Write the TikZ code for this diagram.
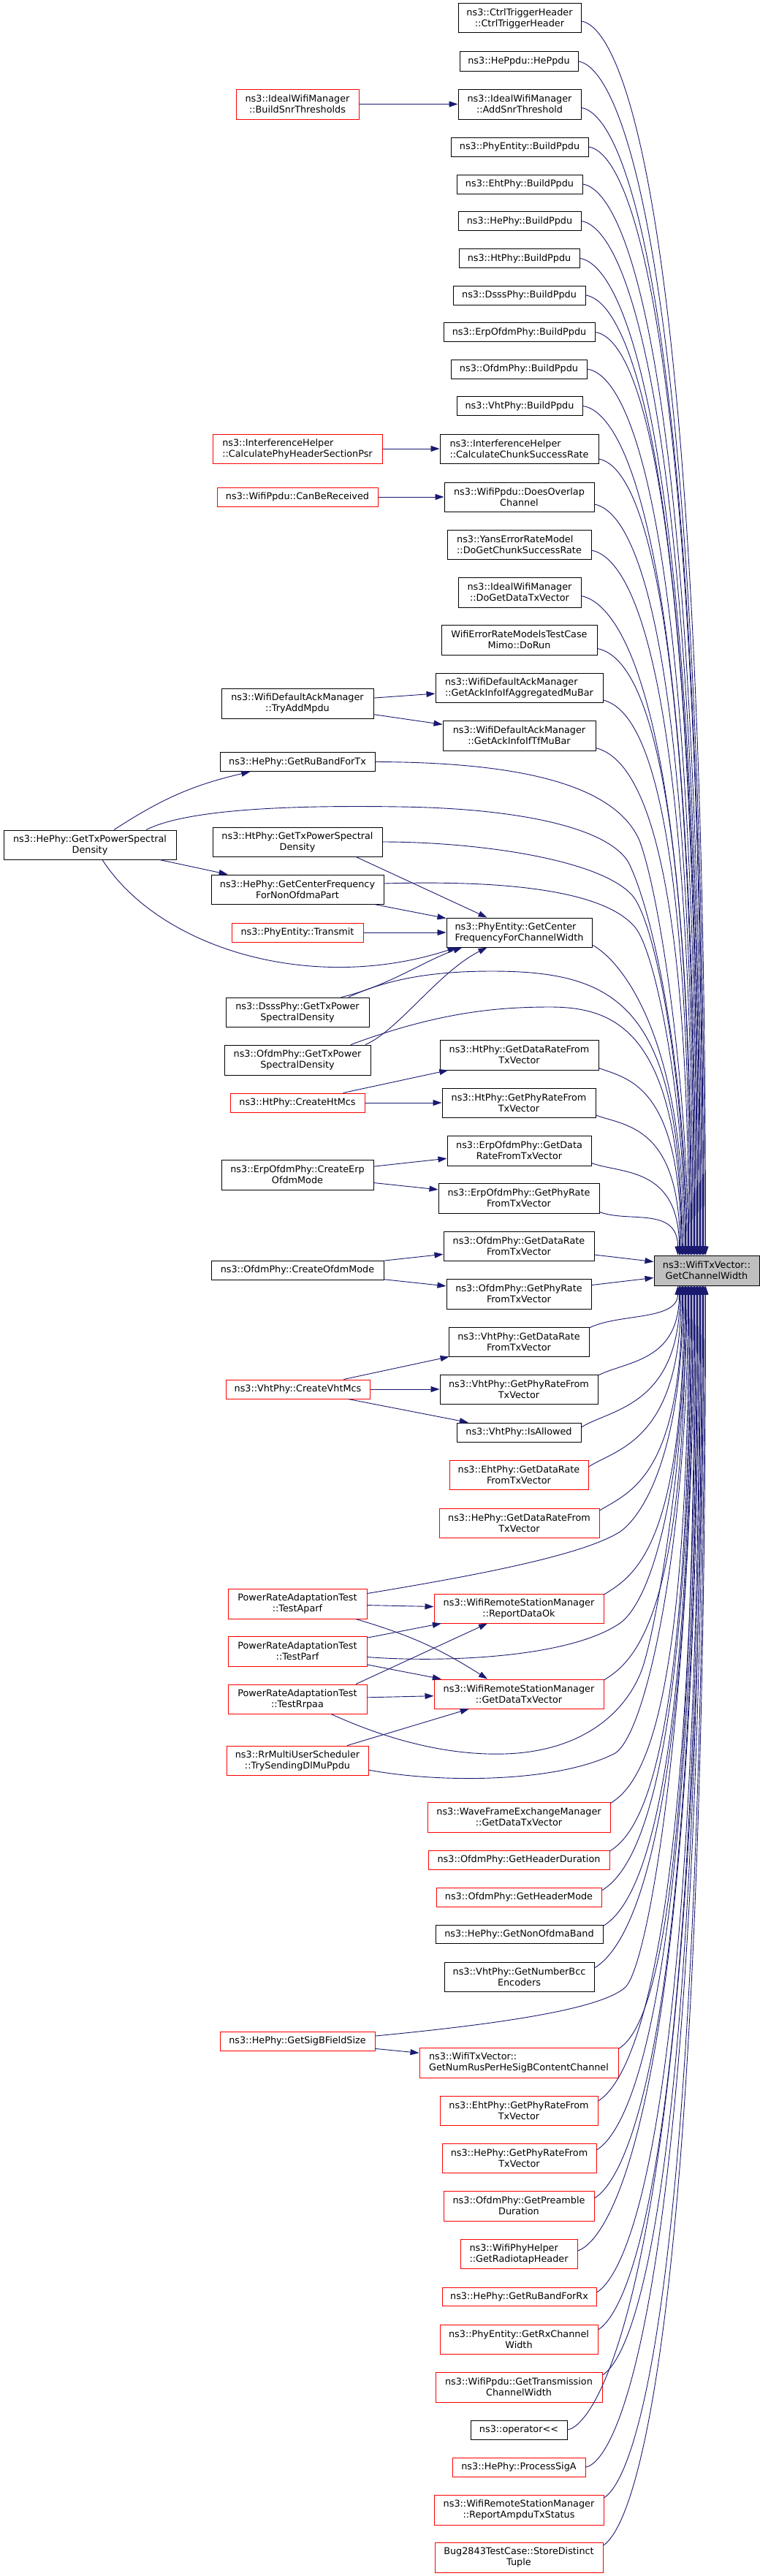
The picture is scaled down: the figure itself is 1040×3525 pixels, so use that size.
\documentclass[tikz,border=0pt]{standalone}
\usepackage{fontspec}
\setmainfont{DejaVu Sans}
\usetikzlibrary{arrows.meta}
\definecolor{edgeblue}{HTML}{191970}
\definecolor{tgtgray}{HTML}{BFBFBF}
\begin{document}
\begin{tikzpicture}[x=1pt,y=-1pt,
  font=\fontsize{12.8}{15}\selectfont,
  bx/.style={draw=black, line width=1pt, inner sep=0pt, align=center},
  rb/.style={bx, draw=red},
  lf/.style={align=left},
  sz/.style 2 args={minimum width=#1pt, minimum height=#2pt},
  edge/.style={draw=edgeblue, line width=0.9pt, -{Triangle[length=12pt,width=8pt]}},
]
\useasboundingbox (0,0) rectangle (1040,3525);

% ---------- nodes ----------
\node[bx,sz={168}{40}] (ctrl) at (711,25) {ns3::CtrlTriggerHeader\\::CtrlTriggerHeader};
\node[bx,sz={162}{26}] (heppdu) at (710,84) {ns3::HePpdu::HePpdu};
\node[rb,sz={168}{41}] (buildsnr) at (407,142.5) {ns3::IdealWifiManager\\::BuildSnrThresholds};
\node[bx,sz={168}{41}] (addsnr) at (711,142.5) {ns3::IdealWifiManager\\::AddSnrThreshold};
\node[bx,sz={188}{26}] (pebuild) at (711,201) {ns3::PhyEntity::BuildPpdu};
\node[bx,sz={172}{26}] (ehtbuild) at (711,252) {ns3::EhtPhy::BuildPpdu};
\node[bx,sz={168}{26}] (hebuild) at (711,302.5) {ns3::HePhy::BuildPpdu};
\node[bx,sz={165}{26}] (htbuild) at (710.5,353.5) {ns3::HtPhy::BuildPpdu};
\node[bx,sz={181}{26}] (dsssbuild) at (710.5,404) {ns3::DsssPhy::BuildPpdu};
\node[bx,sz={207}{26}] (erpbuild) at (710.5,454.5) {ns3::ErpOfdmPhy::BuildPpdu};
\node[bx,sz={186}{26}] (ofdmbuild) at (710,505) {ns3::OfdmPhy::BuildPpdu};
\node[bx,sz={172}{26}] (vhtbuild) at (711,555.5) {ns3::VhtPhy::BuildPpdu};
\node[rb,lf,sz={232}{40}] (calcpsr) at (407,614) {ns3::InterferenceHelper\\::CalculatePhyHeaderSectionPsr};
\node[bx,lf,sz={217}{40}] (calcchunk) at (710.5,614) {ns3::InterferenceHelper\\::CalculateChunkSuccessRate};
\node[rb,sz={220}{26}] (canbe) at (407,680) {ns3::WifiPpdu::CanBeReceived};
\node[bx,sz={205}{40}] (overlap) at (710.5,680) {ns3::WifiPpdu::DoesOverlap\\Channel};
\node[bx,lf,sz={197}{40}] (yans) at (710.5,745) {ns3::YansErrorRateModel\\::DoGetChunkSuccessRate};
\node[bx,sz={168}{41}] (idealdo) at (711,810.5) {ns3::IdealWifiManager\\::DoGetDataTxVector};
\node[bx,sz={213}{41}] (mimo) at (710.5,875.5) {WifiErrorRateModelsTestCase\\Mimo::DoRun};
\node[bx,lf,sz={229}{40}] (aggmubar) at (710.5,941) {ns3::WifiDefaultAckManager\\::GetAckInfoIfAggregatedMuBar};
\node[bx,sz={208}{41}] (tryadd) at (407,962.5) {ns3::WifiDefaultAckManager\\::TryAddMpdu};
\node[bx,sz={209}{41}] (tfmubar) at (710.5,1006.5) {ns3::WifiDefaultAckManager\\::GetAckInfoIfTfMuBar};
\node[bx,sz={212}{26}] (rubandtx) at (407,1042.5) {ns3::HePhy::GetRuBandForTx};
\node[bx,sz={236}{40}] (hetxpsd) at (123,1156) {ns3::HePhy::GetTxPowerSpectral\\Density};
\node[bx,sz={232}{40}] (httxpsd) at (407,1152) {ns3::HtPhy::GetTxPowerSpectral\\Density};
\node[bx,sz={236}{40}] (hecenter) at (407,1217) {ns3::HePhy::GetCenterFrequency\\ForNonOfdmaPart};
\node[rb,sz={180}{26}] (transmit) at (407,1276) {ns3::PhyEntity::Transmit};
\node[bx,lf,sz={199}{40}] (pecenter) at (710.5,1276) {ns3::PhyEntity::GetCenter\\FrequencyForChannelWidth};
\node[bx,sz={196}{40}] (dssstxpsd) at (407,1385) {ns3::DsssPhy::GetTxPower\\SpectralDensity};
\node[bx,sz={200}{41}] (ofdmtxpsd) at (407,1450.5) {ns3::OfdmPhy::GetTxPower\\SpectralDensity};
\node[bx,sz={217}{41}] (htdatarate) at (710.5,1443.5) {ns3::HtPhy::GetDataRateFrom\\TxVector};
\node[rb,sz={184}{26}] (createht) at (407,1509) {ns3::HtPhy::CreateHtMcs};
\node[bx,sz={210}{40}] (htphyrate) at (710,1509) {ns3::HtPhy::GetPhyRateFrom\\TxVector};
\node[bx,sz={197}{41}] (erpdatarate) at (710.5,1574.5) {ns3::ErpOfdmPhy::GetData\\RateFromTxVector};
\node[bx,sz={208}{41}] (createerp) at (407,1607.5) {ns3::ErpOfdmPhy::CreateErp\\OfdmMode};
\node[bx,sz={220}{41}] (erpphyrate) at (710,1639.5) {ns3::ErpOfdmPhy::GetPhyRate\\FromTxVector};
\node[bx,sz={206}{40}] (ofdmdatarate) at (710,1705) {ns3::OfdmPhy::GetDataRate\\FromTxVector};
\node[bx,sz={236}{26}] (createofdm) at (407,1738) {ns3::OfdmPhy::CreateOfdmMode};
\node[bx,fill=tgtgray,sz={144}{41}] (target) at (967,1738.5) {ns3::WifiTxVector::\\GetChannelWidth};
\node[bx,sz={198}{41}] (ofdmphyrate) at (710,1770.5) {ns3::OfdmPhy::GetPhyRate\\FromTxVector};
\node[bx,sz={192}{40}] (vhtdatarate) at (710,1836) {ns3::VhtPhy::GetDataRate\\FromTxVector};
\node[rb,sz={197}{26}] (createvht) at (407.5,1901) {ns3::VhtPhy::CreateVhtMcs};
\node[bx,sz={216}{40}] (vhtphyrate) at (710,1901) {ns3::VhtPhy::GetPhyRateFrom\\TxVector};
\node[bx,sz={170}{26}] (vhtallowed) at (710,1960) {ns3::VhtPhy::IsAllowed};
\node[rb,sz={190}{40}] (ehtdatarate) at (710,2018) {ns3::EhtPhy::GetDataRate\\FromTxVector};
\node[rb,sz={219}{40}] (hedatarate) at (710.5,2084) {ns3::HePhy::GetDataRateFrom\\TxVector};
\node[rb,sz={190}{41}] (aparf) at (407,2194.5) {PowerRateAdaptationTest\\::TestAparf};
\node[rb,sz={232}{40}] (reportok) at (710,2201) {ns3::WifiRemoteStationManager\\::ReportDataOk};
\node[rb,sz={190}{41}] (parf) at (407,2259.5) {PowerRateAdaptationTest\\::TestParf};
\node[rb,sz={190}{40}] (rrpaa) at (407,2325) {PowerRateAdaptationTest\\::TestRrpaa};
\node[rb,sz={232}{40}] (rsmdatatx) at (710,2318) {ns3::WifiRemoteStationManager\\::GetDataTxVector};
\node[rb,sz={194}{40}] (rrmu) at (407,2409) {ns3::RrMultiUserScheduler\\::TrySendingDlMuPpdu};
\node[rb,sz={250}{41}] (wave) at (710,2486.5) {ns3::WaveFrameExchangeManager\\::GetDataTxVector};
\node[rb,sz={248}{26}] (hdrdur) at (710,2545) {ns3::OfdmPhy::GetHeaderDuration};
\node[rb,sz={226}{26}] (hdrmode) at (710,2596) {ns3::OfdmPhy::GetHeaderMode};
\node[bx,sz={229}{25}] (nonofdma) at (710.5,2646.5) {ns3::HePhy::GetNonOfdmaBand};
\node[bx,sz={205}{40}] (bcc) at (710.5,2705) {ns3::VhtPhy::GetNumberBcc\\Encoders};
\node[rb,sz={212}{26}] (sigb) at (407,2793) {ns3::HePhy::GetSigBFieldSize};
\node[rb,lf,sz={272}{41}] (numrus) at (710,2822.5) {ns3::WifiTxVector::\\GetNumRusPerHeSigBContentChannel};
\node[rb,sz={216}{40}] (ehtphyrate) at (710,2888) {ns3::EhtPhy::GetPhyRateFrom\\TxVector};
\node[rb,sz={211}{40}] (hephyrate) at (710.5,2953) {ns3::HePhy::GetPhyRateFrom\\TxVector};
\node[rb,sz={206}{41}] (preamble) at (710,3018.5) {ns3::OfdmPhy::GetPreamble\\Duration};
\node[rb,lf,sz={160}{40}] (radiotap) at (710,3084) {ns3::WifiPhyHelper\\::GetRadiotapHeader};
\node[rb,sz={211}{25}] (rubandrx) at (710.5,3142.5) {ns3::HePhy::GetRuBandForRx};
\node[rb,sz={216}{40}] (rxwidth) at (710,3201) {ns3::PhyEntity::GetRxChannel\\Width};
\node[rb,sz={228}{41}] (txwidth) at (710,3266.5) {ns3::WifiPpdu::GetTransmission\\ChannelWidth};
\node[bx,sz={132}{26}] (operator) at (710,3325) {ns3::operator<\kern0pt<};
\node[rb,sz={182}{26}] (sigA) at (710,3376) {ns3::HePhy::ProcessSigA};
\node[rb,sz={232}{41}] (ampdu) at (710,3434.5) {ns3::WifiRemoteStationManager\\::ReportAmpduTxStatus};
\node[rb,sz={230}{41}] (bug) at (710,3499.5) {Bug2843TestCase::StoreDistinct\\Tuple};

% ---------- short edges ----------
\draw[edge] (buildsnr) -- (addsnr);
\draw[edge] (calcpsr) -- (calcchunk);
\draw[edge] (canbe) -- (overlap);
\draw[edge] (tryadd) -- (aggmubar);
\draw[edge] (tryadd) -- (tfmubar);
\draw[edge] (hetxpsd) to[bend left=10] (rubandtx);
\draw[edge] (hetxpsd) -- (hecenter);
\draw[edge] ([xshift=17pt]hetxpsd.south) .. controls (220,1300) and (430,1360) .. ([xshift=14pt]pecenter.south west);
\draw[edge] ([xshift=80pt]httxpsd.south) -- ([xshift=-44pt]pecenter.north);
\draw[edge] (hecenter) -- (pecenter);
\draw[edge] (transmit) -- (pecenter);
\draw[edge] ([xshift=60pt]dssstxpsd.north) .. controls (530,1350) and (580,1315) .. ([xshift=22pt]pecenter.south west);
\draw[edge] ([xshift=93pt]ofdmtxpsd.north) .. controls (545,1410) and (600,1330) .. ([xshift=-44pt]pecenter.south);
\draw[edge] (createht) -- (htdatarate);
\draw[edge] (createht) -- (htphyrate);
\draw[edge] (createerp) -- (erpdatarate);
\draw[edge] (createerp) -- (erpphyrate);
\draw[edge] (createofdm) -- (ofdmdatarate);
\draw[edge] (createofdm) -- (ofdmphyrate);
\draw[edge] (createvht) -- (vhtdatarate);
\draw[edge] (createvht) -- (vhtphyrate);
\draw[edge] (createvht) -- (vhtallowed);
\draw[edge] (aparf) -- (reportok);
\draw[edge] ([xshift=80pt]aparf.south) to[bend left=8] ([xshift=-43pt]rsmdatatx.north);
\draw[edge] (parf) -- (reportok);
\draw[edge] (parf) -- (rsmdatatx);
\draw[edge] ([xshift=80pt]rrpaa.north) -- ([xshift=-43pt]reportok.south);
\draw[edge] (rrpaa) -- (rsmdatatx);
\draw[edge] (rrmu) -- (rsmdatatx);
\draw[edge] (sigb) -- (numrus);

% ---------- edges into target from the left ----------
\draw[edge] ([yshift=-12pt]ofdmdatarate.east) -- ([yshift=12pt]target.west);
\draw[edge] ([yshift=12pt]ofdmphyrate.east) -- ([yshift=-10pt]target.west);

% ---------- edges into target from above ----------
\draw[edge] ([yshift=-4pt]ctrl.east) .. controls +(55,8) and +(0,-1439) .. ([xshift=71pt]target.north west);
\draw[edge] (heppdu.east) .. controls +(55,8) and +(0,-1389) .. ([xshift=69.5pt]target.north west);
\draw[edge] ([yshift=-5pt]addsnr.east) .. controls +(55,8) and +(0,-1339) .. ([xshift=68pt]target.north west);
\draw[edge] (pebuild.east) .. controls +(55,8) and +(0,-1289) .. ([xshift=67pt]target.north west);
\draw[edge] (ehtbuild.east) .. controls +(55,8) and +(0,-1246) .. ([xshift=65.5pt]target.north west);
\draw[edge] (hebuild.east) .. controls +(55,8) and +(0,-1203) .. ([xshift=64pt]target.north west);
\draw[edge] (htbuild.east) .. controls +(55,8) and +(0,-1160) .. ([xshift=63pt]target.north west);
\draw[edge] (dsssbuild.east) .. controls +(55,8) and +(0,-1117) .. ([xshift=61.5pt]target.north west);
\draw[edge] (erpbuild.east) .. controls +(55,8) and +(0,-1074) .. ([xshift=60pt]target.north west);
\draw[edge] (ofdmbuild.east) .. controls +(55,8) and +(0,-1031) .. ([xshift=59pt]target.north west);
\draw[edge] (vhtbuild.east) .. controls +(55,8) and +(0,-988) .. ([xshift=57.5pt]target.north west);
\draw[edge] ([yshift=-14pt]calcchunk.east) .. controls +(50,10) and +(0,-938) .. ([xshift=56pt]target.north west);
\draw[edge] ([yshift=-10pt]overlap.east) .. controls +(50,10) and +(0,-882) .. ([xshift=55pt]target.north west);
\draw[edge] ([yshift=-8pt]yans.east) .. controls +(50,10) and +(0,-827) .. ([xshift=53.5pt]target.north west);
\draw[edge] ([yshift=-5pt]idealdo.east) .. controls +(50,10) and +(0,-771) .. ([xshift=52pt]target.north west);
\draw[edge] ([yshift=-12pt]mimo.east) .. controls +(50,10) and +(0,-716) .. ([xshift=51pt]target.north west);
\draw[edge] ([yshift=-17pt]aggmubar.east) .. controls +(45,12) and +(0,-660) .. ([xshift=49.5pt]target.north west);
\draw[edge] ([yshift=-17pt]tfmubar.east) .. controls +(45,12) and +(0,-605) .. ([xshift=48pt]target.north west);
\draw[edge] (rubandtx.east) .. controls (700,1043) and (840,1070) .. (875,1150) .. controls (905,1230) and (942,1500) .. ([xshift=47pt]target.north west);
\draw[edge] ([xshift=77pt]hetxpsd.north) .. controls (260,1105) and (420,1102) .. (547,1104) .. controls (700,1106) and (830,1130) .. (860,1180) .. controls (900,1260) and (940.5,1500) .. ([xshift=45.5pt]target.north west);
\draw[edge] (httxpsd.east) .. controls (650,1152) and (820,1175) .. (865,1225) .. controls (900,1265) and (939,1500) .. ([xshift=44pt]target.north west);
\draw[edge] ([yshift=8pt]hecenter.east) .. controls (700,1204) and (830,1220) .. (870,1270) .. controls (900,1310) and (938,1520) .. ([xshift=43pt]target.north west);
\draw[edge] ([yshift=-17pt]pecenter.east) .. controls +(40,22) and +(0,-300) .. ([xshift=41.5pt]target.north west);
\draw[edge] ([xshift=70pt]dssstxpsd.north) .. controls (540,1335) and (610,1329) .. (673,1329) .. controls (850,1329) and (930,1380) .. ([xshift=40pt]target.north west);
\draw[edge] ([xshift=73pt]ofdmtxpsd.north) .. controls (600,1385) and (680,1378) .. (753,1378) .. controls (850,1378) and (930,1420) .. ([xshift=39pt]target.north west);
\draw[edge] ([yshift=-18pt]htdatarate.east) .. controls +(40,15) and +(0,-233) .. ([xshift=37.5pt]target.north west);
\draw[edge] ([yshift=-17pt]htphyrate.east) .. controls +(40,15) and +(0,-178) .. ([xshift=36pt]target.north west);
\draw[edge] ([yshift=-17pt]erpdatarate.east) .. controls +(40,15) and +(0,-122) .. ([xshift=35pt]target.north west);
\draw[edge] ([yshift=-19pt]erpphyrate.east) .. controls +(40,15) and +(0,-67) .. ([xshift=33pt]target.north west);

% ---------- edges into target from below ----------
\draw[edge] ([yshift=19pt]vhtdatarate.east) .. controls +(40,-20) and +(0,48) .. ([xshift=33pt]target.south west);
\draw[edge] ([yshift=19pt]vhtphyrate.east) .. controls +(40,-20) and +(0,104) .. ([xshift=35pt]target.south west);
\draw[edge] ([yshift=7pt]vhtallowed.east) .. controls +(40,-25) and +(0,165) .. ([xshift=36pt]target.south west);
\draw[edge] ([yshift=11pt]ehtdatarate.east) .. controls +(40,-25) and +(0,211) .. ([xshift=37.5pt]target.south west);
\draw[edge] ([yshift=17pt]hedatarate.east) .. controls +(40,-25) and +(0,262) .. ([xshift=39pt]target.south west);
\draw[edge] ([yshift=14pt]aparf.east) .. controls (650,2156) and (800,2128) .. (850,2095) .. controls (895,2060) and (935,1950) .. ([xshift=40pt]target.south west);
\draw[edge] ([yshift=19pt]reportok.east) .. controls +(40,-25) and +(0,359) .. ([xshift=41.5pt]target.south west);
\draw[edge] ([yshift=-8pt]parf.east) .. controls (600,2275) and (780,2270) .. (850,2220) .. controls (900,2180) and (938,2000) .. ([xshift=43pt]target.south west);
\draw[edge] ([yshift=19pt]rsmdatatx.east) .. controls +(40,-25) and +(0,458) .. ([xshift=44pt]target.south west);
\draw[edge] ([xshift=46pt]rrpaa.south) .. controls (540,2385) and (620,2402) .. (690,2400) .. controls (800,2397) and (860,2340) .. (880,2280) .. controls (905,2200) and (940.5,1950) .. ([xshift=45.5pt]target.south west);
\draw[edge] ([yshift=-13pt]rrmu.east) .. controls (600,2440) and (760,2440) .. (840,2400) .. controls (885,2378) and (942,2100) .. ([xshift=47pt]target.south west);
\draw[edge] ([yshift=19pt]wave.east) .. controls +(40,-25) and +(0,601) .. ([xshift=48pt]target.south west);
\draw[edge] ([yshift=12pt]hdrdur.east) .. controls +(40,-25) and +(0,657) .. ([xshift=49.5pt]target.south west);
\draw[edge] ([yshift=9pt]hdrmode.east) .. controls +(40,-25) and +(0,704) .. ([xshift=51pt]target.south west);
\draw[edge] ([yshift=11pt]nonofdma.east) .. controls +(40,-25) and +(0,745) .. ([xshift=52pt]target.south west);
\draw[edge] ([yshift=12pt]bcc.east) .. controls +(40,-25) and +(0,794) .. ([xshift=53.5pt]target.south west);
\draw[edge] ([yshift=7pt]sigb.east) .. controls (680,2770) and (820,2750) .. (855,2720) .. controls (890,2690) and (950,2300) .. ([xshift=55pt]target.south west);
\draw[edge] ([yshift=19pt]numrus.east) .. controls +(40,-25) and +(0,887) .. ([xshift=56pt]target.south west);
\draw[edge] ([yshift=13pt]ehtphyrate.east) .. controls +(40,-25) and +(0,949) .. ([xshift=57.5pt]target.south west);
\draw[edge] ([yshift=11pt]hephyrate.east) .. controls +(40,-25) and +(0,1006) .. ([xshift=59pt]target.south west);
\draw[edge] ([yshift=10.5pt]preamble.east) .. controls +(40,-25) and +(0,1062) .. ([xshift=60pt]target.south west);
\draw[edge] ([yshift=4pt]radiotap.east) .. controls +(45,-15) and +(0,1123) .. ([xshift=61.5pt]target.south west);
\draw[edge] ([yshift=5.5pt]rubandrx.east) .. controls +(40,-25) and +(0,1171) .. ([xshift=63pt]target.south west);
\draw[edge] ([yshift=13pt]rxwidth.east) .. controls +(40,-25) and +(0,1215) .. ([xshift=64pt]target.south west);
\draw[edge] ([yshift=16.5pt]txwidth.east) .. controls +(40,-25) and +(0,1267) .. ([xshift=65.5pt]target.south west);
\draw[edge] (operator.east) .. controls +(45,-8) and +(0,1331) .. ([xshift=67pt]target.south west);
\draw[edge] (sigA.east) .. controls +(45,-8) and +(0,1374) .. ([xshift=68pt]target.south west);
\draw[edge] ([yshift=16.5pt]ampdu.east) .. controls +(40,-25) and +(0,1410) .. ([xshift=69.5pt]target.south west);
\draw[edge] ([yshift=16.5pt]bug.east) .. controls +(40,-25) and +(0,1465) .. ([xshift=71pt]target.south west);
\end{tikzpicture}
\end{document}
